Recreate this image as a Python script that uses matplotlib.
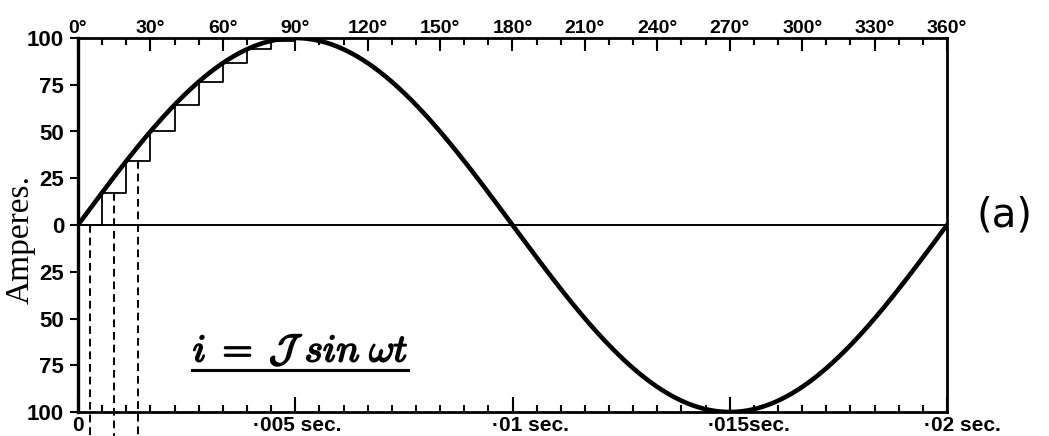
import numpy as np
import matplotlib; matplotlib.use("Agg")
import matplotlib.pyplot as plt
import matplotlib.patheffects as pe
from matplotlib.ticker import MultipleLocator

# ---- chart data ----
peak_amps = 100.0                      # I, peak current
deg_ticks = [0, 30, 60, 90, 120, 150, 180, 210, 240, 270, 300, 330, 360]
deg_labels = [f"{d}°" for d in deg_ticks]
time_ticks = [0, 90, 180, 270, 360]    # degree positions of the time marks
time_labels = ["0", "·005 sec.", "·01 sec.", "·015sec.", "·02 sec."]
amp_ticks = [100, 75, 50, 25, 0, -25, -50, -75, -100]
amp_labels = ["100", "75", "50", "25", "0", "25", "50", "75", "100"]
step_deg = [0, 10, 20, 30, 40, 50, 60, 70, 80, 90]
dashed_deg = [5, 15, 25]

TICK_FONT = ["Liberation Sans", "DejaVu Sans"]

theta = np.linspace(0, 360, 1441)
current = peak_amps * np.sin(np.radians(theta))          # i = I sin wt
step_y = peak_amps * np.sin(np.radians(step_deg))

fig = plt.figure(figsize=(10.49, 4.36), dpi=100)
ax = fig.add_axes([78 / 1049, 1 - 412 / 436, 869 / 1049, 374 / 436])
ax.set_xlim(0, 360); ax.set_ylim(-100, 100)

ax.axhline(0, color="k", lw=1.4, zorder=2)
ax.plot(theta, current, color="k", lw=3.3, zorder=4, solid_capstyle="round")
ax.step(step_deg, step_y, where="post", color="k", lw=1.3, zorder=3)
for d in dashed_deg:
    lvl = step_y[np.searchsorted(step_deg, d) - 1]
    ax.plot([d, d], [lvl, -115], color="k", lw=1.4, ls=(0, (4, 2.5)),
            clip_on=False, zorder=3)

for s in ax.spines.values():
    s.set_linewidth(2.0)
ax.spines["left"].set_linewidth(2.4)

# left amps axis
ax.set_yticks(amp_ticks)
ax.set_yticklabels(amp_labels, family=TICK_FONT, fontsize=16, fontweight="bold")
ax.tick_params(axis="y", direction="out", length=6, width=1.5, pad=4)
ax.set_ylabel("Amperes.", family=["Liberation Serif"], fontsize=24)
ax.yaxis.set_label_coords(-0.049, 0.46)

# bottom time axis
ax.set_xticks(time_ticks)
ax.set_xticklabels([])
ax.xaxis.set_minor_locator(MultipleLocator(10))
ax.tick_params(axis="x", which="major", direction="in", length=11, width=1.5)
ax.tick_params(axis="x", which="minor", direction="in", length=5, width=1.5)
offsets = [0, 1.5, 13, 14, 11]
for x, lab, off in zip(time_ticks, time_labels, offsets):
    ax.annotate(lab, xy=(x, 0), xycoords=("data", "axes fraction"),
                xytext=(off, -3), textcoords="offset points",
                ha="center", va="top", family=TICK_FONT, fontsize=15,
                fontweight="bold")

# top degree axis
top = ax.twiny()
top.set_xlim(0, 360)
top.set_xticks(deg_ticks)
top.set_xticklabels(deg_labels, family=TICK_FONT, fontsize=14, fontweight="bold")
top.xaxis.set_minor_locator(MultipleLocator(10))
top.tick_params(axis="x", which="major", direction="in", length=9, width=1.5, pad=1)
top.tick_params(axis="x", which="minor", direction="in", length=5, width=1.5)
for s in top.spines.values():
    s.set_visible(False)

# formula and panel tag
ax.text(0.132, 0.135, r"$i\;=\;\mathcal{J}\;\mathit{sin}\;\omega t$",
        transform=ax.transAxes, fontsize=28, math_fontfamily="cm",
        ha="left", va="baseline",
        path_effects=[pe.withStroke(linewidth=1.2, foreground="k")])
ax.plot([0.131, 0.380], [0.112, 0.112], transform=ax.transAxes,
        color="k", lw=2.2, clip_on=False)
fig.text(1005 / 1049, 1 - 215 / 436, "(a)", fontsize=29,
         ha="center", va="center")

fig.savefig("out.png", dpi=100)
